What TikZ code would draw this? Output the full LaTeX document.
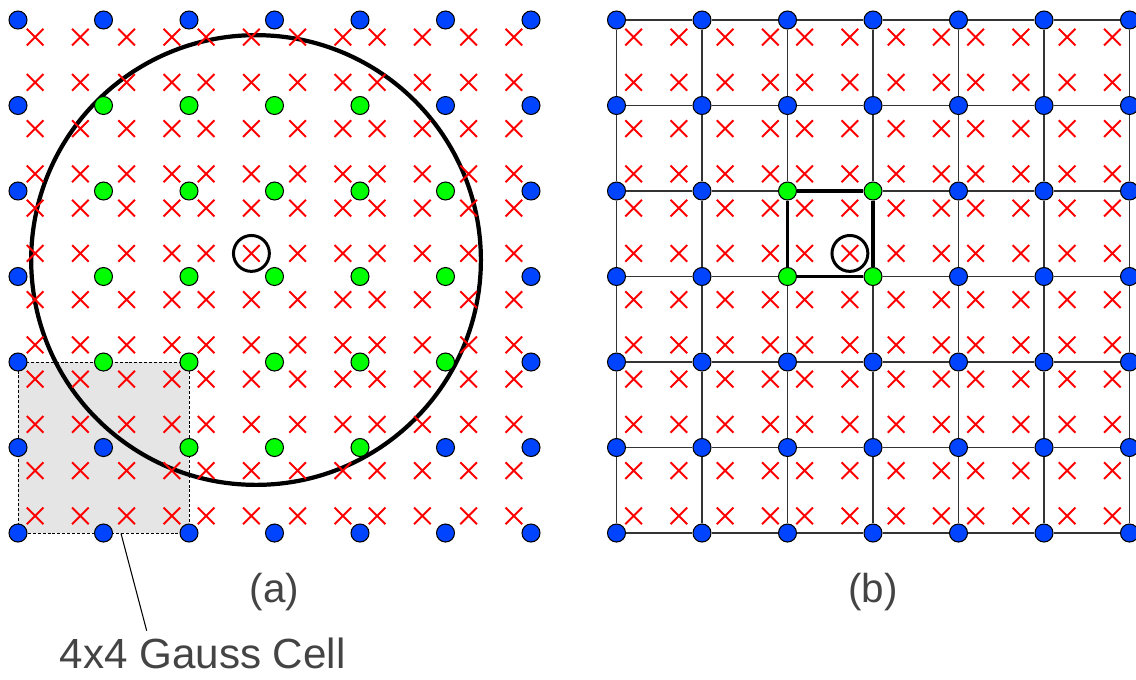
\documentclass[tikz,border=0pt]{standalone}
\usepackage{fontspec}
\setmainfont{Liberation Sans}
\usetikzlibrary{calc,positioning}
\definecolor{ptblue}{HTML}{0044FF}
\definecolor{ptgreen}{HTML}{00FF00}
\definecolor{capgray}{HTML}{444444}

\begin{document}
\begin{tikzpicture}[x=1.71cm,y=-1.71cm,
  dot/.style={circle,draw=black,line width=0.6pt,inner sep=0pt,minimum size=0.36cm},
  gpt/.style={red,line width=1.1pt},
  gridline/.style={black!80,line width=0.85pt},
  lbl/.style={text=capgray,font=\fontsize{23}{28}\selectfont}]
  \useasboundingbox (-0.2105,-0.234) rectangle (13.076,7.708);
  % (a) support circle around one Gauss point
  \node[draw=black,dash pattern=on 1.7pt off 1.1pt,line width=0.5pt,fill=black!10,
    inner sep=0pt,minimum size=3.42cm] (gcell) at (1,5) {};
  \draw[line width=2.4pt] (2.784,2.807) circle (2.63);
  \foreach \x in {0.2,0.73,1.27,1.8,2.2,2.73,3.27,3.8,4.2,4.73,5.27,5.8}
    \foreach \y in {0.2,0.73,1.27,1.8,2.2,2.73,3.27,3.8,4.2,4.73,5.27,5.8}
      \draw[gpt] (\x,\y) +(-0.097,-0.097) -- +(0.097,0.097) +(-0.097,0.097) -- +(0.097,-0.097);
  \draw[line width=1.7pt] (2.73,2.73) circle (0.21);
  \foreach \i in {0,...,6}
    \foreach \j in {0,...,6} {
      \pgfmathparse{veclen(\i-2.784,\j-2.807)<2.63 ? "ptgreen" : "ptblue"}
      \edef\col{\pgfmathresult}
      \node[dot,fill=\col] (a-\i-\j) at (\i,\j) {};
    }
  \node[lbl] (capa) at (3.0,6.69) {(a)};
  \node[lbl,font=\fontsize{24}{29}\selectfont,inner sep=0pt] (glabel) at (2.16,7.41) {4x4 Gauss Cell};
  \draw[line width=0.6pt] ([xshift=0.35cm]gcell.south) -- ([xshift=-1.12cm,yshift=4pt]glabel.north);
  % (b) mesh cell around the same point
  \begin{scope}[xshift=11.97cm]
    \foreach \i in {0,...,6}
      \foreach \j in {0,...,6} {
        \pgfmathparse{(\i>1) && (\i<4) && (\j>1) && (\j<4) ? "ptgreen" : "ptblue"}
        \edef\col{\pgfmathresult}
        \node[dot,fill=\col] (b-\i-\j) at (\i,\j) {};
      }
    \foreach \i in {0,...,6}
      \foreach \j [remember=\j as \jp (initially 0)] in {1,...,6} {
        \draw[gridline] (b-\i-\jp) -- (b-\i-\j);
        \draw[gridline] (b-\jp-\i) -- (b-\j-\i);
      }
    \draw[line width=2pt] (b-2-2) -- (b-3-2) -- (b-3-3) -- (b-2-3) -- (b-2-2);
    \foreach \x in {0.2,0.73,1.27,1.8,2.2,2.73,3.27,3.8,4.2,4.73,5.27,5.8}
      \foreach \y in {0.2,0.73,1.27,1.8,2.2,2.73,3.27,3.8,4.2,4.73,5.27,5.8}
        \draw[gpt] (\x,\y) +(-0.097,-0.097) -- +(0.097,0.097) +(-0.097,0.097) -- +(0.097,-0.097);
    \draw[line width=1.7pt] (2.73,2.73) circle (0.21);
    \node[lbl] (capb) at (3.0,6.69) {(b)};
  \end{scope}
\end{tikzpicture}
\end{document}
